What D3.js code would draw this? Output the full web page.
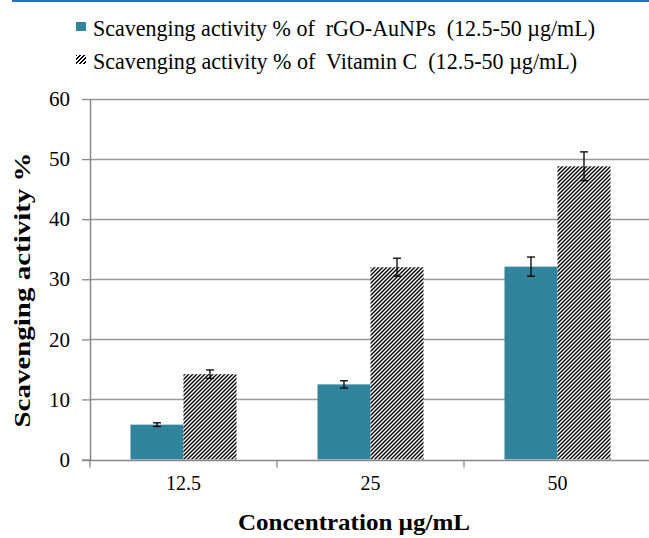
<!DOCTYPE html>
<html>
<head>
<meta charset="utf-8">
<title>Scavenging activity</title>
<script src="https://cdn.jsdelivr.net/npm/d3@7/dist/d3.min.js"></script>
<style>
* { margin: 0; padding: 0; }
body { background: #fff; }
svg, svg text { font-family: "Liberation Serif", "Times New Roman", Times, serif; }
svg { display: block; }
</style>
</head>
<body>
<svg width="649" height="538" id="chart"></svg>
<script>
// data
var categories = ["12.5", "25", "50"];
var seriesNames = [
	"Scavenging activity % of  rGO-AuNPs  (12.5-50 \u00b5g/mL)",
	"Scavenging activity % of  Vitamin C  (12.5-50 \u00b5g/mL)"
];
var rgoValues = [5.8, 12.5, 32.1];
var rgoErrors = [0.3, 0.6, 1.6];
var vitcValues = [14.2, 32.0, 48.8];
var vitcErrors = [0.7, 1.5, 2.4];
var yTicks = [0, 10, 20, 30, 40, 50, 60];

var svg = d3.select("#chart"),
	margin = {top: 99, left: 90, bottom: 78},
	W = +svg.attr("width"), H = +svg.attr("height"),
	bandW = 187;

var x = d3.scaleBand().domain(categories)
	.range([margin.left, margin.left + bandW * categories.length])
	.paddingInner(0.433).paddingOuter(0.2165);
var x1 = d3.scaleBand().domain([0, 1]).range([0, x.bandwidth()]);
var y = d3.scaleLinear().domain([0, 60]).range([H - margin.bottom - 0.5, margin.top]);

// hatch pattern, pixel stripes like the original bitmap fill
var defs = svg.append("defs");
var pat = defs.append("pattern").attr("id", "hatch")
	.attr("patternUnits", "userSpaceOnUse").attr("width", 4).attr("height", 4);
pat.append("rect").attr("width", 4).attr("height", 4).attr("fill", "#fff");
pat.selectAll("rect.px").data(d3.range(8)).join("rect").attr("class", "px")
	.attr("x", function(k) { var r = k >> 1; return (3 - r + (k & 1)) % 4; })
	.attr("y", function(k) { return k >> 1; })
	.attr("width", 1).attr("height", 1).attr("fill", "#000");

// top rule
svg.append("line").attr("x1", 12).attr("x2", W).attr("y1", 1).attr("y2", 1)
	.attr("stroke", "#2a72b5").attr("stroke-width", 2);

// gridlines
svg.append("g").selectAll("line").data(yTicks.slice(1)).join("line")
	.attr("x1", margin.left).attr("x2", W)
	.attr("y1", function(d) { return Math.round(y(d)) + 0.5; })
	.attr("y2", function(d) { return Math.round(y(d)) + 0.5; })
	.attr("stroke", "#999").attr("stroke-width", 1.3);

// y axis
var yAxis = svg.append("g").attr("transform", "translate(" + margin.left + ",0)")
	.call(d3.axisLeft(y).tickValues(yTicks).tickSize(8).tickPadding(12).tickSizeOuter(0))
	.attr("font-family", null);
yAxis.select(".domain").attr("stroke", "#888").attr("stroke-width", 1.5);
yAxis.selectAll(".tick line").attr("stroke", "#888").attr("stroke-width", 1.3);
yAxis.selectAll("text").attr("font-size", 21).attr("fill", "#000");

// bars
var groups = svg.append("g").selectAll("g").data(categories).join("g")
	.attr("transform", function(d) { return "translate(" + x(d) + ",0)"; });

groups.append("rect")
	.attr("x", x1(0)).attr("width", x1.bandwidth())
	.attr("y", function(d, i) { return y(rgoValues[i]); })
	.attr("height", function(d, i) { return y(0) - y(rgoValues[i]); })
	.attr("fill", "#31849b");

groups.append("rect")
	.attr("x", x1(1)).attr("width", x1.bandwidth())
	.attr("y", function(d, i) { return y(vitcValues[i]); })
	.attr("height", function(d, i) { return y(0) - y(vitcValues[i]); })
	.attr("fill", "url(#hatch)");

// error bars
function errBars(vals, errs, k) {
	var cx = x1(k) + x1.bandwidth() / 2;
	var eg = groups.append("g").attr("stroke", "#000").attr("stroke-width", 1.3);
	eg.append("line").attr("x1", cx).attr("x2", cx)
		.attr("y1", function(d, i) { return y(vals[i] + errs[i]); })
		.attr("y2", function(d, i) { return y(vals[i] - errs[i]); });
	[1, -1].forEach(function(s) {
		eg.append("line").attr("x1", cx - 4).attr("x2", cx + 4)
			.attr("y1", function(d, i) { return y(vals[i] + s * errs[i]); })
			.attr("y2", function(d, i) { return y(vals[i] + s * errs[i]); });
	});
}
errBars(rgoValues, rgoErrors, 0);
errBars(vitcValues, vitcErrors, 1);

// x axis
var y0 = Math.round(y(0)) + 0.5;
svg.append("line").attr("x1", margin.left - 8).attr("x2", W).attr("y1", y0).attr("y2", y0)
	.attr("stroke", "#888").attr("stroke-width", 1.5);
svg.append("g").selectAll("line").data(categories).join("line")
	.attr("x1", function(d) { return x(d) - x.step() * x.paddingOuter(); })
	.attr("x2", function(d) { return x(d) - x.step() * x.paddingOuter(); })
	.attr("y1", y0).attr("y2", y0 + 7)
	.attr("stroke", "#888").attr("stroke-width", 1.3);
svg.append("g").selectAll("text").data(categories).join("text")
	.attr("x", function(d) { return x(d) + x.bandwidth() / 2; })
	.attr("y", 490).attr("text-anchor", "middle").attr("font-size", 20)
	.text(function(d) { return d; });

// axis titles
svg.append("text").attr("x", 354).attr("y", 530).attr("text-anchor", "middle")
	.attr("font-size", 24).attr("font-weight", "bold")
	.attr("textLength", 232).attr("lengthAdjust", "spacingAndGlyphs")
	.text("Concentration \u00b5g/mL");
svg.append("text").attr("transform", "translate(30,290) rotate(-90)")
	.attr("text-anchor", "middle").attr("font-size", 24).attr("font-weight", "bold")
	.attr("textLength", 275).attr("lengthAdjust", "spacingAndGlyphs")
	.text("Scavenging activity %");

// legend
var legendWidths = [502, 484];
var legend = svg.append("g").selectAll("g").data(seriesNames).join("g")
	.attr("transform", function(d, i) { return "translate(76," + (22 + i * 33) + ")"; });
legend.append("rect").attr("width", 10).attr("height", 9)
	.attr("fill", function(d, i) { return i === 0 ? "#31849b" : "url(#hatch)"; });
legend.append("text").attr("x", 17).attr("y", 14).attr("font-size", 23)
	.style("white-space", "pre")
	.attr("textLength", function(d, i) { return legendWidths[i]; })
	.attr("lengthAdjust", "spacingAndGlyphs")
	.text(function(d) { return d; });
</script>
</body>
</html>
